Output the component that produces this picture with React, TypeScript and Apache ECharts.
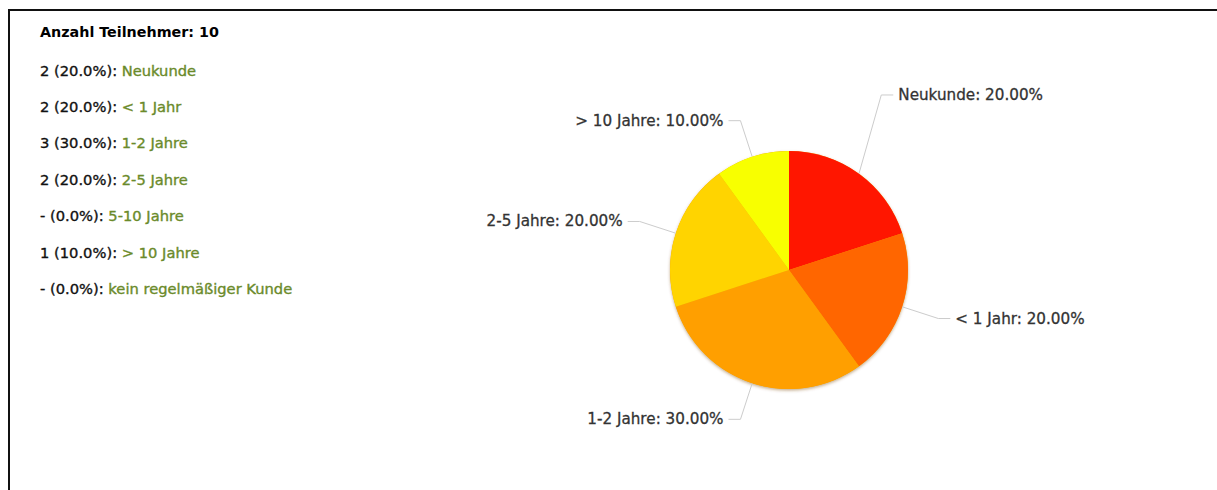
import React, { useEffect, useRef } from "react";
import * as echarts from "echarts";

const headerLabel = "Anzahl Teilnehmer";
const categories = [
  "Neukunde",
  "< 1 Jahr",
  "1-2 Jahre",
  "2-5 Jahre",
  "5-10 Jahre",
  "> 10 Jahre",
  "kein regelmäßiger Kunde",
];
const counts = [2, 2, 3, 2, 0, 1, 0];
const colors = ["#FF1600", "#FF6600", "#FF9F00", "#FFD400", "#FFE800", "#F8FF00", "#CCCCCC"];

export default function App() {
  const ref = useRef<HTMLDivElement>(null);
  useEffect(() => {
    if (!ref.current) return;
    const chart = echarts.init(ref.current, null, { renderer: "svg" });
    const total = counts.reduce((a, b) => a + b, 0);
    const font = "'DejaVu Sans', Verdana, sans-serif";
    const green = "#6a8a2a";

    const listItems: any[] = [
      {
        type: "text",
        x: 40,
        y: 32,
        style: {
          text: `${headerLabel}: ${total}`,
          fill: "#000",
          font: `bold 14.3px ${font}`,
          verticalAlign: "middle",
        },
      },
    ];
    categories.forEach((c, i) => {
      const n = counts[i];
      const pct = ((n / total) * 100).toFixed(1);
      listItems.push({
        type: "text",
        x: 40,
        y: 70 + i * 36.4,
        style: {
          text: `{a|${n === 0 ? "-" : n} (${pct}%): }{b|${c}}`,
          font: `14.7px ${font}`,
          verticalAlign: "middle",
          rich: {
            a: { fill: "#111", font: `14.7px ${font}`, stroke: "#111", lineWidth: 0.35 },
            b: { fill: green, font: `14.7px ${font}`, stroke: green, lineWidth: 0.35 },
          },
        },
      });
    });

    const pieData = categories
      .map((c, i) => ({ name: c, value: counts[i], itemStyle: { color: colors[i] } }))
      .filter((d) => d.value > 0);

    chart.setOption({
      animation: false,
      graphic: [
        {
          type: "line",
          shape: { x1: 9, y1: 9, x2: 9, y2: 490 },
          style: { stroke: "#111", lineWidth: 2 },
        },
        {
          type: "line",
          shape: { x1: 8, y1: 10, x2: 1217, y2: 10 },
          style: { stroke: "#111", lineWidth: 2 },
        },
        ...listItems,
      ],
      series: [
        {
          type: "pie",
          silent: true,
          z: 1,
          center: [789, 270],
          radius: 119,
          data: [{ name: "", value: total }],
          itemStyle: {
            color: "#f0a000",
            shadowBlur: 3,
            shadowOffsetY: 1.5,
            shadowColor: "rgba(120,70,0,0.45)",
          },
          label: { show: false },
          labelLine: { show: false },
          emphasis: { disabled: true },
          tooltip: { show: false },
        },
        {
          type: "pie",
          z: 2,
          center: [789, 270],
          radius: 119,
          startAngle: 90,
          clockwise: true,
          data: pieData,
          itemStyle: { borderWidth: 0 },
          emphasis: { disabled: true },
          label: {
            show: true,
            formatter: (p: any) => `${p.name}: ${p.percent.toFixed(2)}%`,
            color: "#333",
            fontSize: 15.2,
            fontFamily: font,
            textBorderColor: "#333",
            textBorderWidth: 0.3,
            distanceToLabelLine: 5,
          },
          percentPrecision: 2,
          labelLine: {
            show: true,
            length: 38,
            length2: 12,
            smooth: false,
            lineStyle: { color: "#cccccc", width: 1 },
          },
          labelLayout: (p: any) => {
            if (p.dataIndex === 0 && p.labelLinePoints) {
              const dy = -48;
              const pts = p.labelLinePoints;
              return {
                dy,
                labelLinePoints: [
                  pts[0],
                  [pts[1][0], pts[1][1] + dy],
                  [pts[2][0], pts[2][1] + dy],
                ],
              };
            }
            return {};
          },
        },
      ],
    });
    return () => chart.dispose();
  }, []);
  return (
    <div
      ref={ref}
      style={{ position: "absolute", left: 0, top: 0, width: 1217, height: 490, background: "#fff" }}
    />
  );
}
